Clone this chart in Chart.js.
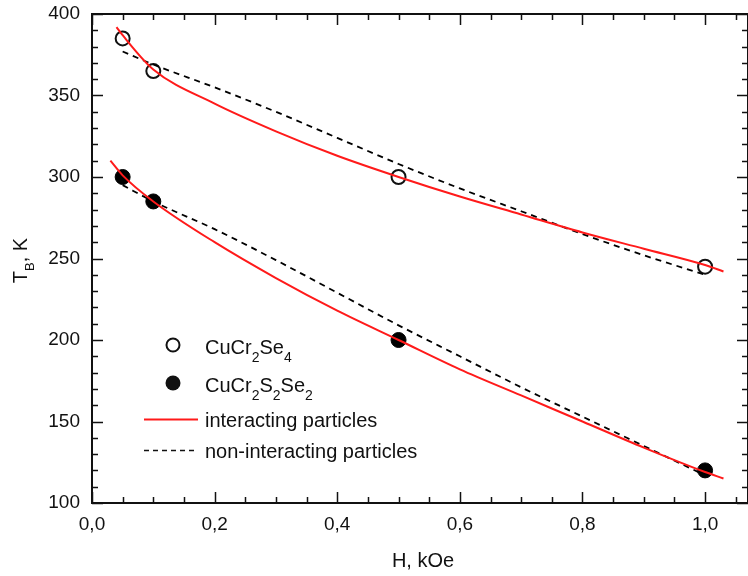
<!DOCTYPE html>
<html>
<head>
<meta charset="utf-8">
<script src="https://cdn.jsdelivr.net/npm/chart.js@4.4.1/dist/chart.umd.min.js"></script>
<style>
  body { margin: 0; background: #fff; }
  canvas { display: block; }
</style>
</head>
<body>
<canvas id="chart" width="748" height="576"></canvas>
<script>
// --- DATA ---
const fieldH   = [0.05, 0.1, 0.5, 1.0];          // H, kOe
const tbSe4    = [385, 365, 300, 245];          // CuCr2Se4, open circles
const tbS2Se2  = [300, 285, 200, 120];          // CuCr2S2Se2, filled circles

// interacting particles (red curves)
const fitHupper  = [0.04, 0.05, 0.1, 0.2, 0.3, 0.4, 0.5, 0.6, 0.7, 0.8, 0.9, 1.0, 1.03];
const interSe4   = [392, 387, 366, 345, 328, 313, 300, 288, 277, 266, 256, 246, 242];
const fitHlower  = [0.03, 0.05, 0.1, 0.2, 0.3, 0.4, 0.5, 0.6, 0.7, 0.8, 0.9, 1.0, 1.03];
const interS2Se2 = [310, 301, 285, 260, 238, 218, 200, 182, 166, 150, 134, 119, 115];

// non-interacting particles (dashed)
const nonH        = [0.05, 0.1, 0.2, 0.3, 0.4, 0.5, 0.6, 0.7, 0.8, 0.9, 1.0];
const nonSe4      = [377, 369, 355, 340, 324, 308, 293, 279, 265, 252, 240];
const nonS2Se2    = [295, 285, 268, 249, 229, 209, 190, 171, 153, 135, 117];

// axis ticks
const xTicks = [0, 0.2, 0.4, 0.6, 0.8, 1.0];
const yTicks = [100, 150, 200, 250, 300, 350, 400];

const FONT = "'Liberation Sans', Arial, sans-serif";
const pts = (xs, ys) => xs.map((x, i) => ({ x: x, y: ys[i] }));

// --- frame with inward ticks, legend and axis titles ---
const decor = {
  id: 'decor',
  afterDraw(chart) {
    const ctx = chart.ctx;
    const a = chart.chartArea;
    const sx = chart.scales.x, sy = chart.scales.y;
    ctx.save();
    ctx.strokeStyle = '#111';
    ctx.lineWidth = 2;
    ctx.strokeRect(a.left, a.top, a.right - a.left, a.bottom - a.top);

    ctx.lineWidth = 1.5;
    ctx.beginPath();
    for (let v = 0; v <= 1.0701; v += 0.05) {
      const px = Math.round(sx.getPixelForValue(v)) + 0.5;
      const major = Math.abs(v / 0.2 - Math.round(v / 0.2)) < 1e-6;
      const len = major ? 11 : 6;
      ctx.moveTo(px, a.bottom); ctx.lineTo(px, a.bottom - len);
      ctx.moveTo(px, a.top); ctx.lineTo(px, a.top + len);
    }
    for (let v = 100; v <= 400; v += 10) {
      const py = Math.round(sy.getPixelForValue(v)) + 0.5;
      const len = (v % 50 === 0) ? 11 : 6;
      ctx.moveTo(a.left, py); ctx.lineTo(a.left + len, py);
      ctx.moveTo(a.right, py); ctx.lineTo(a.right - len, py);
    }
    ctx.stroke();

    // text with subscripts
    const rich = (parts, x, y, size, subSize, subDy) => {
      ctx.textBaseline = 'alphabetic';
      ctx.textAlign = 'left';
      let cx = x;
      parts.forEach(p => {
        ctx.font = (p.sub ? subSize : size) + 'px ' + FONT;
        ctx.fillText(p.t, cx, y + (p.sub ? subDy : 0));
        cx += ctx.measureText(p.t).width;
      });
      return cx - x;
    };
    const width = (parts, size, subSize) => parts.reduce((w, p) => {
      ctx.font = (p.sub ? subSize : size) + 'px ' + FONT;
      return w + ctx.measureText(p.t).width;
    }, 0);

    ctx.fillStyle = '#111';

    // legend
    ctx.lineWidth = 2;
    ctx.beginPath(); ctx.arc(173, 345, 6.5, 0, Math.PI * 2); ctx.stroke();
    rich([{t:'CuCr'},{t:'2',sub:1},{t:'Se'},{t:'4',sub:1}], 205, 354, 20, 14, 8);
    ctx.beginPath(); ctx.arc(173, 383, 7.5, 0, Math.PI * 2); ctx.fill();
    rich([{t:'CuCr'},{t:'2',sub:1},{t:'S'},{t:'2',sub:1},{t:'Se'},{t:'2',sub:1}], 205, 392, 20, 14, 8);

    ctx.strokeStyle = '#ff1a1a';
    ctx.beginPath(); ctx.moveTo(144, 419.5); ctx.lineTo(198, 419.5); ctx.stroke();
    ctx.strokeStyle = '#111';
    ctx.lineWidth = 1.6;
    ctx.setLineDash([5, 4]);
    ctx.beginPath(); ctx.moveTo(144, 450.5); ctx.lineTo(198, 450.5); ctx.stroke();
    ctx.setLineDash([]);
    rich([{t:'interacting particles'}], 205, 427, 20, 14, 8);
    rich([{t:'non-interacting particles'}], 205, 458, 20, 14, 8);

    // x title
    const xt = [{t:'H, kOe'}];
    const xw = width(xt, 20, 14);
    rich(xt, 423 - xw / 2, 567, 20, 14, 8);

    // y title
    const yt = [{t:'T'},{t:'B',sub:1},{t:', K'}];
    const yw = width(yt, 20, 13);
    ctx.translate(27, (a.top + a.bottom) / 2 + 2);
    ctx.rotate(-Math.PI / 2);
    rich(yt, -yw / 2, 0, 20, 13, 7);
    ctx.restore();
  }
};

new Chart(document.getElementById('chart'), {
  type: 'scatter',
  data: {
    datasets: [
      {
        label: 'interacting particles',
        type: 'line',
        data: pts(fitHupper, interSe4),
        borderColor: '#ff1a1a', borderWidth: 2, pointRadius: 0,
        cubicInterpolationMode: 'monotone', fill: false, order: 0
      },
      {
        label: 'interacting particles (S2Se2)',
        type: 'line',
        data: pts(fitHlower, interS2Se2),
        borderColor: '#ff1a1a', borderWidth: 2, pointRadius: 0,
        cubicInterpolationMode: 'monotone', fill: false, order: 0
      },
      {
        label: 'non-interacting particles',
        type: 'line',
        data: pts(nonH, nonSe4),
        borderColor: '#000', borderWidth: 1.8, borderDash: [6, 5], pointRadius: 0,
        cubicInterpolationMode: 'monotone', fill: false, order: 1
      },
      {
        label: 'non-interacting particles (S2Se2)',
        type: 'line',
        data: pts(nonH, nonS2Se2),
        borderColor: '#000', borderWidth: 1.8, borderDash: [6, 5], pointRadius: 0,
        cubicInterpolationMode: 'monotone', fill: false, order: 1
      },
      {
        label: 'CuCr2Se4',
        data: pts(fieldH, tbSe4),
        pointStyle: 'circle', pointRadius: 7, borderWidth: 2,
        borderColor: '#111', backgroundColor: 'rgba(0,0,0,0)', order: 2
      },
      {
        label: 'CuCr2S2Se2',
        data: pts(fieldH, tbS2Se2),
        pointStyle: 'circle', pointRadius: 7.5, borderWidth: 1,
        borderColor: '#000', backgroundColor: '#000', order: 2
      }
    ]
  },
  options: {
    responsive: false,
    animation: false,
    devicePixelRatio: 1,
    layout: { autoPadding: false, padding: { top: 14, right: 0, left: 0, bottom: 0 } },
    plugins: { legend: { display: false }, tooltip: { enabled: false } },
    scales: {
      x: {
        type: 'linear', min: 0, max: 1.07,
        grid: { display: false }, border: { display: false },
        afterBuildTicks: s => { s.ticks = xTicks.map(v => ({ value: v })); },
        afterFit: s => { s.height = 73; s.paddingLeft = 0; s.paddingRight = 0; },
        ticks: {
          padding: 2, color: '#111', font: { family: FONT, size: 19 },
          callback: v => Number(v).toFixed(1).replace('.', ',')
        }
      },
      y: {
        type: 'linear', min: 100, max: 400,
        grid: { display: false }, border: { display: false },
        afterBuildTicks: s => { s.ticks = yTicks.map(v => ({ value: v })); },
        afterFit: s => { s.width = 92; s.paddingTop = 0; s.paddingBottom = 0; },
        ticks: { padding: 4, color: '#111', font: { family: FONT, size: 19 } }
      }
    }
  },
  plugins: [decor]
});
</script>
</body>
</html>
